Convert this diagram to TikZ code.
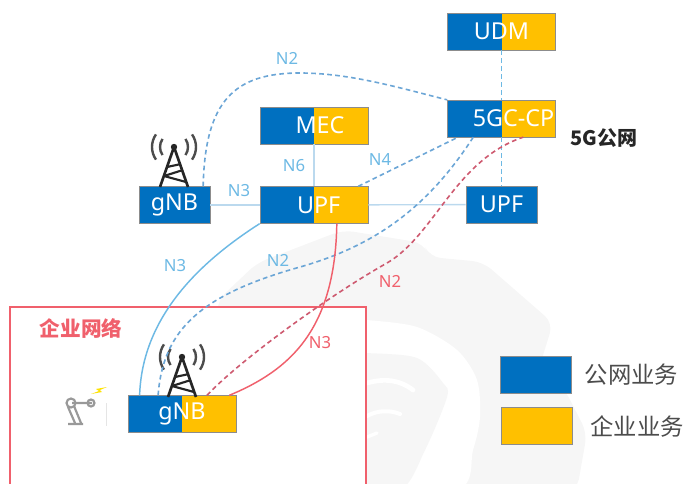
\documentclass[tikz,border=0pt]{standalone}
\usepackage{fontspec}
\setmainfont{Noto Sans}
\newfontfamily\cjk{Noto Sans CJK SC}
\usepackage{tikz}
\usetikzlibrary{calc,positioning}
\definecolor{pubblue}{HTML}{0070C0}
\definecolor{entyellow}{HTML}{FFC000}
\definecolor{linkblue}{HTML}{6CA6D6}
\definecolor{skyblue}{HTML}{6DB9E4}
\definecolor{lineblue}{HTML}{BBD9EE}
\definecolor{linkred}{HTML}{CE5A70}
\definecolor{redframe}{HTML}{F0606C}
\definecolor{wmgray}{HTML}{F6F6F6}
\tikzset{
  netbox/.style={rectangle, draw=black!45, line width=0.5pt, fill=pubblue, text=white, inner sep=0pt,
    minimum width=53.25pt, minimum height=27.5pt, font=\fontsize{17.5}{18}\selectfont},
  splitbox/.style={netbox, fill=entyellow, minimum width=81pt, path picture={
    \fill[pubblue] (path picture bounding box.south west) rectangle (path picture bounding box.north);}},
  legbox/.style={rectangle, draw=black!45, line width=0.5pt, minimum width=53.25pt, minimum height=27.5pt},
  nlabel/.style={text=skyblue, font=\fontsize{12.5}{13}\selectfont, inner sep=0pt},
  rlabel/.style={nlabel, text=redframe},
  plain link/.style={lineblue, line width=1pt},
  dash link/.style={linkblue, line width=1.2pt, dash pattern=on 3.5pt off 2.5pt},
  sky dash/.style={skyblue, line width=1.2pt, dash pattern=on 3.5pt off 2.5pt},
  red dash/.style={linkred, line width=1.2pt, dash pattern=on 3.5pt off 2.5pt},
  tower/.pic={
    \draw[black!85, line width=2pt, line join=round] (-14,40) -- (0,0) -- (14,40);
    \draw[black!85, line width=1.6pt] (-7,20) -- (7,17) (-10,29) -- (9,23) (-10,29) -- (12,35);
    \fill[black!85] (0,0) circle (3.2);
    \foreach \r in {14,22} {
      \draw[black!70, line width=1.8pt] (145:\r) arc (145:215:\r);
      \draw[black!70, line width=1.8pt] (35:\r) arc (35:-35:\r);
    }
  }
}
\begin{document}
\begin{tikzpicture}[x=0.75pt, y=-0.75pt]
\useasboundingbox (0,0) rectangle (685,483);

% watermark
\begin{scope}
\clip (0,0) rectangle (685,483);
\fill[wmgray, rounded corners=8pt] (200,490) -- (218,300) -- (257,263) -- (343,230) -- (423,243) -- (430,257) -- (483,262) -- (553,323) -- (540,365) -- (565,390) -- (587,433) -- (577,490) -- cycle;
\fill[white] plot[smooth] coordinates {(340,319) (367,320) (417,327) (457,350) (477,380) (480,417) (473,450) (457,490) (340,490)} -- cycle;
\fill[wmgray] plot[smooth] coordinates {(340,352) (367,353) (417,358) (443,383) (447,397) (425,450) (400,490) (340,490)} -- cycle;
\draw[white, line width=3.5pt, line cap=round] (367,383) .. controls (385,378) and (400,380) .. (413,390);
\draw[white, line width=3pt, line cap=round] (367,416) .. controls (378,410) and (390,410) .. (400,414);
\draw[white, line width=2.5pt, line cap=round] (367,437) -- (377,433);
\end{scope}

% enterprise frame
\fill[white] (10,490) -- (10,307) -- (366,307) -- (366,490) -- cycle;
\draw[redframe, line width=1pt] (10,490) -- (10,307) -- (366,307) -- (366,490);
\node[text=redframe, font=\cjk\fontsize{15.5}{16}\selectfont\bfseries, inner sep=0pt] (ent) at (81,328) {企业网络};

% boxes
\node[splitbox] (udm) at (501.5,31.5) {UDM};
\node[splitbox] (cp) at (501.5,118.5) {\hspace{18pt}5GC-CP};
\node[netbox] (upfB) at (501.5,204.5) {UPF};
\node[splitbox] (mec) at (314,125.5) {\hspace{9pt}MEC};
\node[splitbox] (upfA) at (314,205) {\hspace{7pt}UPF};
\node[netbox] (gnbA) at (174.5,205) {gNB};
\node[splitbox] (gnbB) at (182,414) {gNB};

% towers
\pic at (174,147) {tower};
\pic at (182,357) {tower};

% solid links
\draw[plain link] (gnbA) -- (upfA);
\draw[plain link] (upfA) -- (upfB);
\draw[plain link] (mec) -- (upfA);

% dashed links
\draw[sky dash] (udm) -- (cp);
\draw[sky dash] (cp) -- (upfB);
\draw[dash link] ($(gnbA.north west)!0.9!(gnbA.north east)$) .. controls (205,100) and (235,73) .. (300,73) .. controls (350,73) and (400,88) .. (cp.north west);
\draw[dash link] ($(upfA.north west)!0.907!(upfA.north east)$) -- ($(cp.south west)!0.1!(cp.south east)$);
\draw[dash link] ($(gnbB.north west)!0.28!(gnbB.north east)$) .. controls (163,330) and (200,295) .. (300,267) .. controls (370,247) and (425,212) .. ($(cp.south west)!0.24!(cp.south east)$);
\draw[red dash] ($(gnbB.north west)!0.73!(gnbB.north east)$) .. controls (240,360) and (330,295) .. (387,263) .. controls (435,235) and (455,160) .. ($(cp.south west)!0.7!(cp.south east)$);

% N3 links
\draw[skyblue, line width=1.1pt] ($(gnbB.north west)!0.11!(gnbB.north east)$) .. controls (142,320) and (195,265) .. (upfA.south west);
\draw[redframe, line width=1.1pt] ($(gnbB.north west)!0.935!(gnbB.north east)$) .. controls (290,370) and (335,330) .. ($(upfA.south west)!0.71!(upfA.south east)$);

% labels
\node[nlabel] (n2a) at (287,58) {N2};
\node[nlabel] (n6) at (294,166) {N6};
\node[nlabel] (n4) at (380,160) {N4};
\node[nlabel] (n3a) at (239,191) {N3};
\node[nlabel] (n3b) at (175,266) {N3};
\node[nlabel] (n2b) at (278,260) {N2};
\node[rlabel] (n2c) at (390,281) {N2};
\node[rlabel] (n3c) at (320,343) {N3};
\node[font=\cjk\fontsize{15}{16}\selectfont\bfseries, text=black!85, inner sep=0pt] (pub) at (604,138) {5G公网};

% robot
\draw[black!40, line width=1.6pt, line join=round] (68,424) -- (83,424) (68,407) -- (75,423) (74,406) -- (81,423) (72,403) -- (92,403);
\draw[black!40, line width=1.6pt] (71,403) circle (4.5) (91,403) circle (3.5);
\fill[yellow!85!orange] (107,387) -- (96,389) -- (99,391) -- (91,394) -- (102,392) -- (100,390) -- cycle;
\draw[black!10, line width=0.5pt] (106,403) -- (106,426);

% legend
\node[legbox, fill=pubblue] (legA) at (535.5,374.5) {};
\node[legbox, fill=entyellow] (legB) at (536.5,426) {};
\node[right=10pt of legA, inner sep=0pt, font=\cjk\fontsize{17.5}{18}\selectfont, text=black!70] (legAt) {公网业务};
\node[right=13.5pt of legB, inner sep=0pt, font=\cjk\fontsize{17.5}{18}\selectfont, text=black!70] (legBt) {企业业务};

\end{tikzpicture}
\end{document}
